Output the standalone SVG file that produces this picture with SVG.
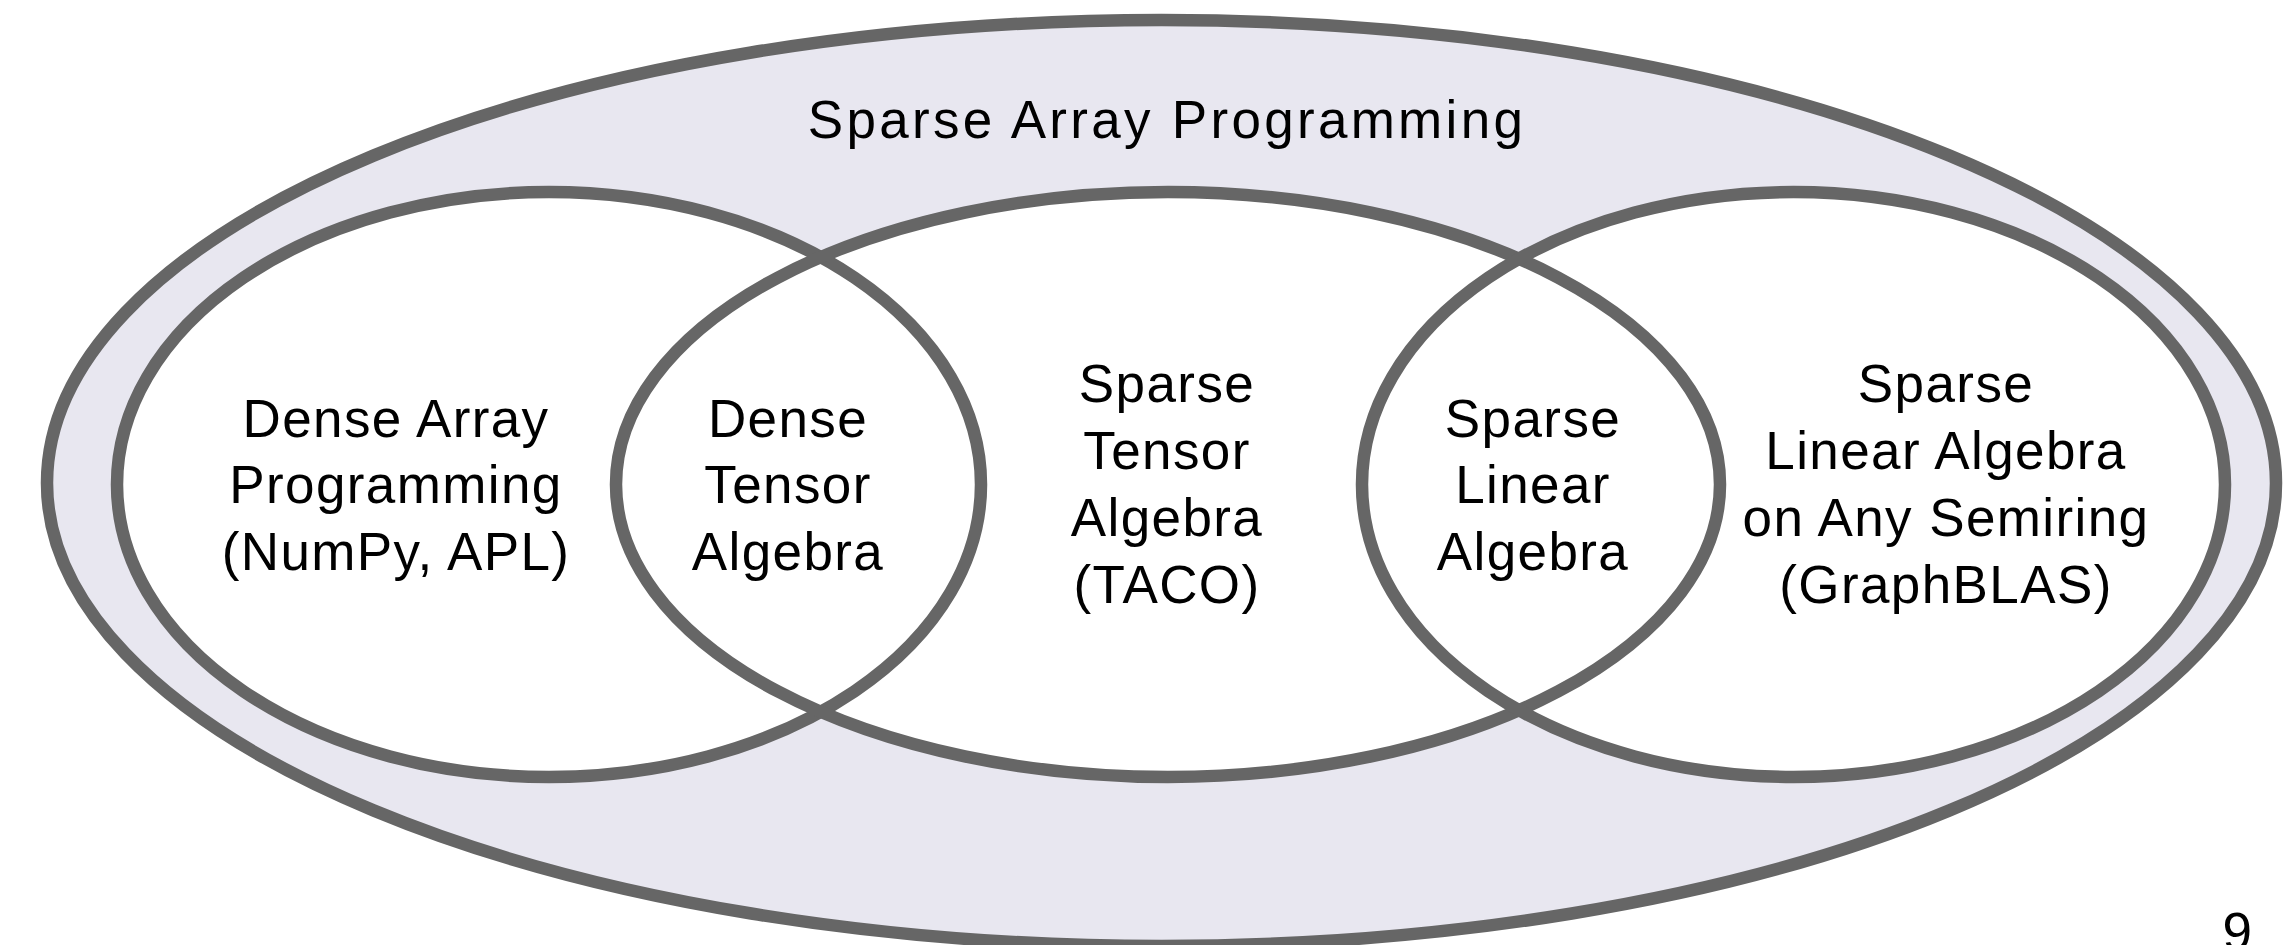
<svg xmlns="http://www.w3.org/2000/svg" width="2291" height="945" viewBox="0 0 2291 945">
<style>
.e{stroke:#666666;stroke-width:12.5;}
.t{font-family:"Liberation Sans",Arial,sans-serif;font-size:53px;letter-spacing:1.4px;fill:#000;text-anchor:middle;}
</style>
<rect width="2291" height="945" fill="#ffffff"/>
<g id="outer">
<ellipse class="e" cx="1161.5" cy="483" rx="1114.5" ry="463" fill="#E8E7F0"/>
<text class="t" x="1167" y="138" font-size="58" style="letter-spacing:3.3px">Sparse Array Programming</text>
</g>
<g id="fills">
<ellipse cx="549" cy="484.5" rx="432" ry="292.5" fill="#ffffff"/>
<ellipse cx="1168" cy="484.5" rx="552" ry="292.5" fill="#ffffff"/>
<ellipse cx="1793.5" cy="484.5" rx="431.5" ry="292.5" fill="#ffffff"/>
</g>
<g id="connectors"></g>
<g id="dense-array">
<ellipse class="e" cx="549" cy="484.5" rx="432" ry="292.5" fill="none"/>
<text class="t" x="396" y="437">Dense Array</text>
<text class="t" x="396" y="503">Programming</text>
<text class="t" x="396" y="570">(NumPy, APL)</text>
</g>
<g id="sparse-tensor">
<ellipse class="e" cx="1168" cy="484.5" rx="552" ry="292.5" fill="none"/>
<text class="t" x="1167" y="402">Sparse</text>
<text class="t" x="1167" y="469">Tensor</text>
<text class="t" x="1167" y="536">Algebra</text>
<text class="t" x="1167" y="603">(TACO)</text>
</g>
<g id="graphblas">
<ellipse class="e" cx="1793.5" cy="484.5" rx="431.5" ry="292.5" fill="none"/>
<text class="t" x="1946" y="402">Sparse</text>
<text class="t" x="1946" y="469">Linear Algebra</text>
<text class="t" x="1946" y="536">on Any Semiring</text>
<text class="t" x="1946" y="603">(GraphBLAS)</text>
</g>
<g id="dense-tensor">
<text class="t" x="788" y="437">Dense</text>
<text class="t" x="788" y="503">Tensor</text>
<text class="t" x="788" y="570">Algebra</text>
</g>
<g id="sparse-linear">
<text class="t" x="1533" y="437">Sparse</text>
<text class="t" x="1533" y="503">Linear</text>
<text class="t" x="1533" y="570">Algebra</text>
</g>
<g id="page">
<text class="t" x="2238" y="950" font-size="44">9</text>
</g>
</svg>
